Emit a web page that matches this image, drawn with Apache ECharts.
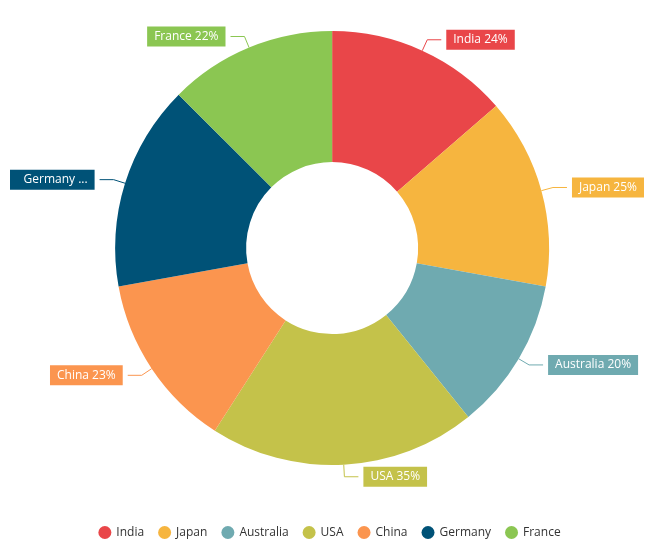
<!DOCTYPE html>
<html>
<head>
<meta charset="utf-8">
<script src="https://cdn.jsdelivr.net/npm/echarts@6/dist/echarts.min.js"></script>
<style>html,body{margin:0;padding:0;background:#fff}#chart{width:659px;height:560px}</style>
</head>
<body>
<div id="chart"></div>
<script>
// data
const countries = ['India', 'Japan', 'Australia', 'USA', 'China', 'Germany', 'France']
const shares = [24, 25, 20, 35, 23, 27, 22]
const colors = ['#E94649', '#F6B53F', '#6FAAB0', '#C4C24A', '#FB954F', '#005277', '#8BC652']

const chart = echarts.init(document.getElementById('chart'))
chart.setOption({
  color: colors,
  textStyle: { fontFamily: 'Open Sans, Noto Sans, sans-serif' },
  legend: {
    bottom: 16,
    icon: 'circle',
    itemWidth: 13, itemHeight: 13, itemGap: 14,
    textStyle: { fontSize: 12, color: '#333' }
  },
  series: [{
    type: 'pie',
    center: ['50.4%', '44.3%'],
    radius: [86, 217],
    startAngle: 90,
    clockwise: true,
    data: countries.map((c, i) => ({ name: c, value: shares[i] })),
    label: {
      formatter: p => p.name + ' ' + p.value + '%',
      color: '#fff',
      fontSize: 12,
      backgroundColor: 'inherit',
      padding: [4, 7]
    },
    labelLine: { length: 12, length2: 14, lineStyle: { width: 1 } },
    itemStyle: { borderColor: '#fff', borderWidth: 0 },
    emphasis: { scale: false }
  }]
})
</script>
</body>
</html>
